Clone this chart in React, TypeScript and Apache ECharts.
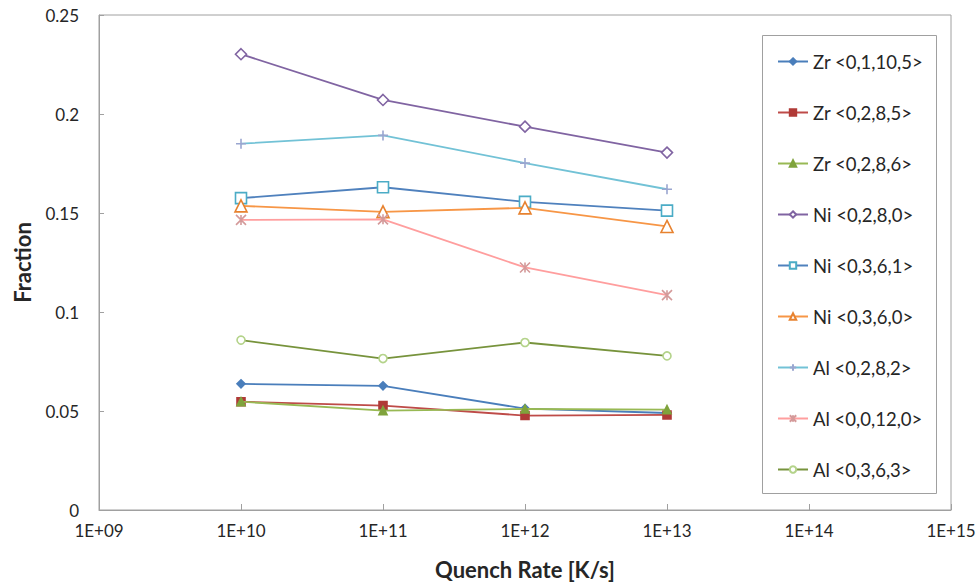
import React, { useEffect, useRef } from "react";
import * as echarts from "echarts";

const rates = [1e10, 1e11, 1e12, 1e13];
const seriesNames = [
  "Zr <0,1,10,5>",
  "Zr <0,2,8,5>",
  "Zr <0,2,8,6>",
  "Ni <0,2,8,0>",
  "Ni <0,3,6,1>",
  "Ni <0,3,6,0>",
  "Al <0,2,8,2>",
  "Al <0,0,12,0>",
  "Al <0,3,6,3>",
];
const zr01105 = [0.0637, 0.0627, 0.0512, 0.049];
const zr0285 = [0.0547, 0.0527, 0.0477, 0.048];
const zr0286 = [0.0547, 0.0502, 0.051, 0.0507];
const ni0280 = [0.2302, 0.2071, 0.1936, 0.1805];
const ni0361 = [0.1575, 0.163, 0.1556, 0.1512];
const ni0360 = [0.1536, 0.1506, 0.1526, 0.1432];
const al0282 = [0.185, 0.1892, 0.1752, 0.162];
const al00120 = [0.1465, 0.1468, 0.1225, 0.1085];
const al0363 = [0.0858, 0.0765, 0.0846, 0.0778];
const yTicks = [0, 0.05, 0.1, 0.15, 0.2, 0.25];

const allValues = [zr01105, zr0285, zr0286, ni0280, ni0361, ni0360, al0282, al00120, al0363];

const PLUS = "path://M5,0L5,10M0,5L10,5";
const STAR = "path://M0,0L10,10M10,0L0,10M5,0L5,10";

const styles = [
  { line: "#4A7EBB", symbol: "diamond", size: 8, fill: "#4A7EBB", border: "#4A7EBB" },
  { line: "#BE4B48", symbol: "rect", size: 8, fill: "#B03A37", border: "#B03A37" },
  { line: "#98B954", symbol: "triangle", size: 8, fill: "#7FA33C", border: "#7FA33C" },
  { line: "#8064A2", symbol: "diamond", size: 11, fill: "#ffffff", border: "#8064A2" },
  { line: "#4F81BD", symbol: "rect", size: 11, fill: "#ffffff", border: "#4BACC6" },
  { line: "#F79646", symbol: "triangle", size: 12, fill: "#ffffff", border: "#E7822F" },
  { line: "#72C2D6", symbol: PLUS, size: 10, fill: "#9AA6D0", border: "#9AA6D0" },
  { line: "#FF9E9E", symbol: STAR, size: 10, fill: "#D49A9A", border: "#D49A9A" },
  { line: "#77933C", symbol: "circle", size: 8, fill: "#ffffff", border: "#B4D38A" },
];

const FONT = "Lato, 'Liberation Sans', sans-serif";

export default function App() {
  const ref = useRef<HTMLDivElement>(null);
  useEffect(() => {
    if (!ref.current) return;
    const chart = echarts.init(ref.current, null, { renderer: "svg" });
    const series = seriesNames.map((name, i) => ({
      name,
      type: "line",
      data: rates.map((r, j) => [r, allValues[i][j]]),
      symbol: styles[i].symbol,
      symbolSize: styles[i].size,
      showAllSymbol: true,
      lineStyle: { color: styles[i].line, width: 1.8 },
      itemStyle: {
        color: styles[i].fill,
        borderColor: styles[i].border,
        borderWidth: 1.6,
      },
      z: 2 + i,
    }));
    chart.setOption({
      animation: false,
      backgroundColor: "#ffffff",
      textStyle: { fontFamily: FONT },
      grid: {
        left: 99,
        right: 28,
        top: 15,
        bottom: 71,
        show: true,
        borderColor: "#A0A0A0",
        borderWidth: 1,
      },
      xAxis: {
        type: "log",
        logBase: 10,
        min: 1e9,
        max: 1e15,
        name: "Quench Rate [K/s]",
        nameLocation: "middle",
        nameGap: 48,
        nameTextStyle: { fontFamily: FONT, fontSize: 22, fontWeight: "bold", color: "#262626" },
        axisLine: { lineStyle: { color: "#A0A0A0" } },
        axisTick: { inside: true, length: 6, lineStyle: { color: "#A0A0A0" } },
        splitLine: { show: false },
        minorTick: { show: false },
        axisLabel: {
          margin: 12,
          fontFamily: FONT,
          fontSize: 17,
          color: "#262626",
          formatter: (v: number) => {
            const e = Math.round(Math.log10(v));
            return "1E+" + (e < 10 ? "0" + e : String(e));
          },
        },
      },
      yAxis: {
        type: "value",
        min: 0,
        max: 0.25,
        interval: 0.05,
        name: "Fraction",
        nameLocation: "middle",
        nameGap: 66,
        nameTextStyle: { fontFamily: FONT, fontSize: 22, fontWeight: "bold", color: "#262626" },
        axisLine: { show: true, lineStyle: { color: "#A0A0A0" } },
        axisTick: { show: true, inside: true, length: 5, lineStyle: { color: "#A0A0A0" } },
        splitLine: { show: false },
        axisLabel: {
          margin: 20,
          fontFamily: FONT,
          fontSize: 17,
          color: "#262626",
          formatter: (v: number) => {
            const t = yTicks.find((y) => Math.abs(y - v) < 1e-9);
            return String(t !== undefined ? t : v);
          },
        },
      },
      legend: {
        orient: "vertical",
        left: 777,
        top: 52,
        itemWidth: 30,
        itemHeight: 8,
        itemGap: 32.0,
        padding: 0,
        textStyle: { fontFamily: FONT, fontSize: 18.5, color: "#262626" },
        data: seriesNames,
      },
      graphic: [
        {
          type: "rect",
          shape: { x: 762.5, y: 35.5, width: 174, height: 458 },
          style: { fill: "none", stroke: "#A0A0A0", lineWidth: 1 },
          z: 0,
        },
      ],
      series,
    });
    return () => chart.dispose();
  }, []);
  return (
    <div
      ref={ref}
      style={{ position: "absolute", left: 0, top: 0, width: 979, height: 585 }}
    />
  );
}
